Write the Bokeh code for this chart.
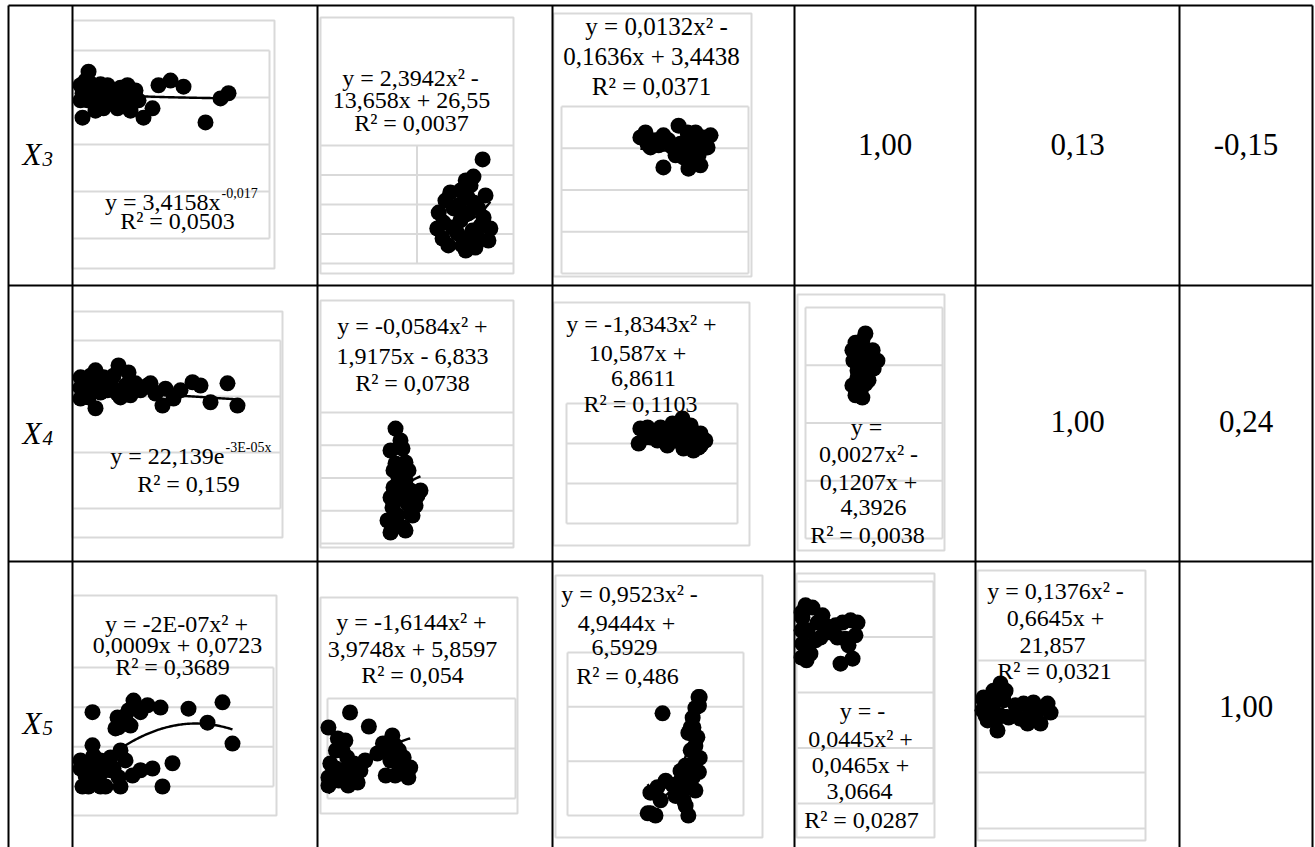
import numpy as np
from bokeh.plotting import figure
from bokeh.models import Range1d
from bokeh.core.properties import value
from bokeh.embed import file_html
from bokeh.resources import INLINE

W, H = 1315, 847
FONT = value("Liberation Serif")
GRID = "#d9d9d9"
INK = "#000000"

# ---------------- correlation table ----------------
row_labels = ["3", "4", "5"]
corr_r3 = [1.00, 0.13, -0.15]
corr_r4 = [1.00, 0.24]
corr_r5 = [1.00]

# ---------------- scatter data per cell ----------------
r3c1_x = [98, 137, 234, 293, 429, 488, 546, 624, 722, 819, 878, 975, 1073, 1131, 1229,
          254, 137, 1326, 1502, 1619, 1853, 2106, 2535, 2828, 2984, 351, 683, 98, 390, 1034,
          195, 332, 585, 780, 917, 1170, 488, 683, 1014, 390]
r3c1_y = [3.26, 3.09, 2.94, 3.30, 3.19, 3.00, 2.77, 3.26, 3.00, 2.77, 3.21, 2.94, 2.72, 3.00, 2.94,
          3.55, 2.57, 2.57, 2.77, 3.26, 3.36, 3.23, 2.47, 2.98, 3.09, 3.04, 3.11, 2.94, 2.83, 3.11,
          3.36, 3.15, 3.11, 3.04, 2.83, 3.15, 3.28, 2.89, 3.26, 2.72]

r3c2_x = [3.36, 3.17, 3.01, 2.69, 3.05, 3.17, 2.45, 2.76, 3.05, 3.27, 2.55, 2.90, 3.38, 3.52,
          2.53, 2.84, 3.05, 3.21, 2.74, 3.15, 2.94, 3.27,
          2.59, 2.90, 3.42, 2.65, 3.32, 2.86, 3.11, 2.42, 3.48, 3.01]
r3c2_y = [10.29, 9.42, 9.22, 8.61, 8.36, 8.10, 7.59, 7.80, 7.54, 7.80, 7.08, 7.19, 7.34, 6.78,
          6.27, 6.53, 6.17, 5.81, 6.83, 6.68, 5.92, 6.27,
          8.20, 8.71, 8.46, 5.92, 6.93, 7.95, 8.97, 6.78, 6.17, 5.66]

r3c3_x = [4.22, 4.60, 5.03, 5.45, 5.94, 6.26, 6.74, 7.17, 7.59, 7.81, 7.01, 6.52, 6.79, 7.43,
          5.45, 6.36, 4.76, 7.33, 4.49, 5.72, 6.90, 7.43, 6.10, 7.17, 7.97, 5.19]
r3c3_y = [3.26, 3.11, 3.19, 3.31, 3.02, 3.54, 3.38, 3.38, 3.26, 3.02, 2.99, 2.78, 2.51, 2.59,
          2.54, 3.11, 3.02, 2.83, 3.38, 3.19, 3.23, 3.07, 2.83, 2.71, 3.31, 3.07]

r4c1_x = [98, 98, 98, 234, 390, 429, 546, 390, 839, 683, 878, 975, 1170, 1268, 1404, 1560,
          1697, 1755, 1911, 2282, 2633, 2964, 3159, 819, 195, 624,
          293, 488, 741, 1073, 1463, 2048, 2438, 254, 1034]
r4c1_y = [24.2, 22.3, 20.3, 23.6, 25.5, 23.1, 24.2, 18.5, 26.4, 23.1, 20.5, 22.7, 23.1, 21.8,
          22.7, 21.2, 19.0, 22.1, 20.3, 23.3, 19.6, 23.1, 19.0, 21.2, 21.8, 21.8,
          24.5, 21.4, 24.5, 20.9, 23.1, 21.8, 22.7, 20.5, 25.1]

r4c2_x = [9.72, 9.07, 10.62, 9.72, 11.01, 10.10, 9.46, 10.75, 11.66, 9.07, 10.36, 12.56, 9.33,
          11.27, 12.31, 8.68, 9.97, 11.66, 10.75, 9.72,
          10.36, 9.46, 11.40, 11.01, 9.72, 11.92, 9.07, 11.01, 12.95]
r4c2_y = [14.04, 11.36, 11.60, 9.77, 9.89, 8.06, 6.84, 7.08, 6.47, 5.62, 5.62, 5.86, 4.40,
          4.88, 4.64, 2.81, 3.42, 3.66, 1.95, 2.56,
          12.58, 8.92, 8.92, 7.69, 5.86, 3.42, 1.34, 1.59, 6.47]

r4c3_x = [2.16, 2.11, 2.37, 2.60, 2.75, 2.95, 3.10, 3.39, 3.25, 2.95, 3.54, 3.77, 3.92, 3.71,
          3.86, 3.42, 2.46, 3.25, 2.31, 2.66, 3.19, 3.63, 3.92, 2.81, 3.48, 4.06]
r4c3_y = [23.75, 20.0, 24.0, 22.75, 24.0, 22.5, 25.0, 26.25, 21.5, 19.5, 22.75, 21.5, 22.5,
          18.25, 19.0, 18.75, 21.5, 23.75, 21.5, 20.75, 20.75, 24.5, 19.5, 23.25, 19.5, 20.75]

r4c4_x = [17.5, 14.6, 13.7, 16.1, 19.0, 21.0, 14.0, 16.6, 19.9, 15.2, 17.5, 16.1, 14.6, 18.4,
          15.2, 18.4, 16.6, 19.6, 15.5, 17.8, 13.7, 16.6, 19.0]
r4c4_y = [3.55, 3.39, 3.26, 3.29, 3.17, 3.08, 3.08, 3.03, 2.94, 2.79, 2.68, 2.56, 2.48, 2.74,
          2.91, 3.08, 3.43, 3.26, 3.17, 2.87, 2.65, 2.44, 2.94]

r5c1_x = [234, 722, 741, 839, 936, 1034, 1112, 1307, 1560, 2106, 2477, 2769, 2964,
          0, 0, 39, 156, 254, 332, 390, 488, 527, 644, 741, 780, 1014, 1404, 1599, 1794, 390, 585,
          877, 1170, 975, 682, 156, 293, 585, 877, 98, 780, 390, 1170, 234]
r5c1_y = [1.28, 1.19, 1.02, 1.14, 1.31, 1.48, 1.34, 1.40, 1.36, 1.34, 1.10, 1.45, 0.74,
          0.45, 0.31, 0.0, 0.0, 0.53, 0.33, 0.22, 0.0, 0.40, 0.31, 0.16, 0.62, 0.19, 0.31, 0.0,
          0.40, 0.45, 0.50,
          1.22, 1.28, 1.05, 1.00, 0.41, 0.19, 0.28, 0.45, 0.19, 0.0, 0.0, 0.28, 0.71]

r5c2_x = [0.24, 0.44, 0.01, 0.11, 0.16, 0.21, 0.28, 0.35, 0.03, 0.01, 0.01, 0.12, 0.17, 0.32,
          0.69, 0.59, 0.76, 0.81, 0.72, 0.86, 0.64, 0.53,
          0.09, 0.19, 0.09, 0.24, 0.40, 0.22, 0.67, 0.78, 0.62, 0.88, 0.72]
r5c2_y = [9.14, 8.58, 8.54, 8.10, 7.62, 7.34, 7.10, 6.82, 7.10, 6.54, 6.22, 6.42, 6.82, 6.34,
          8.22, 7.90, 7.62, 7.34, 6.62, 6.54, 7.62, 7.50,
          7.62, 8.02, 6.90, 6.50, 7.22, 6.22, 7.22, 7.02, 6.62, 6.94, 7.82]

r5c3_x = [2.63, 3.55, 3.58, 3.47, 3.40, 3.35, 3.29, 3.52, 3.58, 3.22, 3.56, 3.40, 3.09, 2.71,
          2.50, 2.32, 3.01, 3.17, 2.25, 2.45, 3.29, 3.27, 3.42,
          3.56, 3.42, 3.47, 3.35, 3.09, 2.89, 3.47, 2.58, 2.32, 3.22, 2.96]
r5c3_y = [0.94, 1.09, 1.09, 0.99, 0.90, 0.81, 0.76, 0.72, 0.53, 0.46, 0.40, 0.35, 0.32, 0.32,
          0.26, 0.21, 0.23, 0.14, 0.02, 0.00, 0.00, 0.26, 0.48,
          1.01, 0.81, 0.64, 0.60, 0.41, 0.28, 0.23, 0.14, 0.02, 0.09, 0.18]

r5c4_x = [0.88, 0.29, 0.59, 1.18, 0.29, 0.76, 1.35, 1.94, 2.65, 3.12, 3.41, 2.82, 2.35, 2.53,
          3.24, 0.24, 0.24, 0.47, 1.06, 1.65, 2.24, 3.00, 0.53, 0.24, 3.53, 1.47]
r5c4_y = [3.53, 3.35, 3.12, 3.26, 2.88, 2.70, 2.99, 3.08, 3.26, 3.30, 3.03, 2.97, 2.99, 2.52,
          2.61, 2.63, 3.44, 3.57, 2.94, 3.21, 3.21, 2.85, 2.58, 3.12, 3.26, 3.39]

r5c5_x = [1.37, 0.95, 0.36, 0.30, 0.60, 1.19, 0.89, 1.55, 1.85, 2.74, 3.33, 4.17, 4.35, 3.15,
          3.75, 2.98, 0.36, 0.77, 0.48, 1.37, 2.26, 3.75, 1.67, 2.56, 1.07]
r5c5_y = [25.9, 24.6, 23.4, 21.1, 19.3, 17.5, 21.6, 22.9, 19.8, 22.3, 22.5, 22.3, 20.7, 20.5,
          18.75, 18.75, 22.9, 22.9, 20.2, 20.2, 22.0, 21.4, 24.6, 19.6, 19.3]

# ---------------- trend lines, coefficients as printed ----------------
r3c1_fit = ("power", 3.4158, -0.017)
r3c2_fit = ("poly2", 2.3942, -13.658, 26.55)
r3c3_fit = ("poly2", 0.0132, -0.1636, 3.4438)
r4c1_fit = ("exp", 22.139, -3e-05)
r4c2_fit = ("poly2", -0.0584, 1.9175, -6.833)
r4c3_fit = ("poly2", -1.8343, 10.587, 6.8611)
r4c4_fit = ("poly2", 0.0027, -0.1207, 4.3926)
r5c1_fit = ("poly2", -2e-07, 0.0009, 0.0723)
r5c2_fit = ("poly2", -1.6144, 3.9748, 5.8597)
r5c3_fit = ("poly2", 0.9523, -4.9444, 6.5929)
r5c4_fit = ("poly2", -0.0445, 0.0465, 3.0664)
r5c5_fit = ("poly2", 0.1376, -0.6645, 21.857)

# ---------------- trend labels ----------------
r3c1_label = ["y = 3,4158x", "-0,017", "R² = 0,0503"]
r3c2_label = ["y = 2,3942x² -", "13,658x + 26,55", "R² = 0,0037"]
r3c3_label = ["y = 0,0132x² -", "0,1636x + 3,4438", "R² = 0,0371"]
r4c1_label = ["y = 22,139e", "-3E-05x", "R² = 0,159"]
r4c2_label = ["y = -0,0584x² +", "1,9175x - 6,833", "R² = 0,0738"]
r4c3_label = ["y = -1,8343x² +", "10,587x +", "6,8611", "R² = 0,1103"]
r4c4_label = ["y =", "0,0027x² -", "0,1207x +", "4,3926", "R² = 0,0038"]
r5c1_label = ["y = -2E-07x² +", "0,0009x + 0,0723", "R² = 0,3689"]
r5c2_label = ["y = -1,6144x² +", "3,9748x + 5,8597", "R² = 0,054"]
r5c3_label = ["y = 0,9523x² -", "4,9444x +", "6,5929", "R² = 0,486"]
r5c4_label = ["y = -", "0,0445x² +", "0,0465x +", "3,0664", "R² = 0,0287"]
r5c5_label = ["y = 0,1376x² -", "0,6645x +", "21,857", "R² = 0,0321"]

# ---------------- page layout (pixels from top-left) ----------------
col_edges = [8, 72, 317, 552, 794, 975, 1179, 1312]
row_edges = [5, 285, 561]
label_baseline = [154, 433, 723]
number_center = [144, 421, 706]

charts = {
    "r3c1": dict(x=r3c1_x, y=r3c1_y, fit=r3c1_fit, box=(72, 20, 274, 268), frame=(75, 269, 50, 238),
                 xlim=(0, 3783), ylim=(0, 4), hgrid=(72, 269, 4), vgrid=[269]),
    "r3c2": dict(x=r3c2_x, y=r3c2_y, fit=r3c2_fit, box=(320, 17, 513, 273), frame=(320, 513, 145, 263),
                 xlim=(0, 4), ylim=(5, 11), hgrid=(320, 513, 4), vgrid=[416.5]),
    "r3c3": dict(x=r3c3_x, y=r3c3_y, fit=r3c3_fit, box=(553, 13, 751, 276), frame=(561, 748, 106, 273),
                 xlim=(0, 10), ylim=(0, 4), hgrid=(561, 748, 4), vgrid=[561, 748]),
    "r4c1": dict(x=r4c1_x, y=r4c1_y, fit=r4c1_fit, box=(72, 311, 282, 537), frame=(75, 280, 340, 508),
                 xlim=(0, 3998), ylim=(0, 31), hgrid=(72, 280, 3), vgrid=[280]),
    "r4c2": dict(x=r4c2_x, y=r4c2_y, fit=r4c2_fit, box=(320, 300, 513, 547), frame=(320, 513, 412, 543),
                 xlim=(0, 25), ylim=(0, 16), hgrid=(320, 513, 4), vgrid=[]),
    "r4c3": dict(x=r4c3_x, y=r4c3_y, fit=r4c3_fit, box=(553, 302, 749, 545), frame=(566, 737, 403, 523),
                 xlim=(0, 5), ylim=(0, 30), hgrid=(566, 737, 3), vgrid=[566, 737]),
    "r4c4": dict(x=r4c4_x, y=r4c4_y, fit=r4c4_fit, box=(797, 294, 944, 550), frame=(805, 942, 307, 538),
                 xlim=(0, 40), ylim=(0, 4), hgrid=(805, 942, 4), vgrid=[805, 942]),
    "r5c1": dict(x=r5c1_x, y=r5c1_y, fit=r5c1_fit, box=(72, 595, 276, 815), frame=(80, 273, 667, 786),
                 xlim=(0, 3763.5), ylim=(0, 2.05), hgrid=(72, 273, 3), vgrid=[273]),
    "r5c2": dict(x=r5c2_x, y=r5c2_y, fit=r5c2_fit, box=(320, 597, 517, 813), frame=(327, 515, 698, 798),
                 xlim=(0, 2), ylim=(5.7, 9.7), hgrid=(327, 515, 2), vgrid=[327, 515]),
    "r5c3": dict(x=r5c3_x, y=r5c3_y, fit=r5c3_fit, box=(555, 575, 762, 837), frame=(567, 743, 652, 815),
                 xlim=(0.2, 4.7), ylim=(0, 1.5), hgrid=(567, 743, 3), vgrid=[567, 743]),
    "r5c4": dict(x=r5c4_x, y=r5c4_y, fit=r5c4_fit, box=(796, 573, 934, 837), frame=(797, 933, 581, 803),
                 xlim=(0, 8), ylim=(0, 4), hgrid=(797, 933, 4), vgrid=[933]),
    "r5c5": dict(x=r5c5_x, y=r5c5_y, fit=r5c5_fit, box=(977, 570, 1145, 840), frame=(977, 1145, 660, 828),
                 xlim=(0, 10), ylim=(0, 30), hgrid=(977, 1145, 3), vgrid=[]),
}

# label lines: (text, centre x, centre y); font size per chart
labels = {
    "r3c2": (r3c2_label, [(410, 77), (411, 99), (411, 122)], 24),
    "r3c3": (r3c3_label, [(656, 26), (651, 56), (651, 86)], 25),
    "r4c2": (r4c2_label, [(412, 325), (412, 355), (412, 382)], 24),
    "r4c3": (r4c3_label, [(641, 323), (637, 352), (643, 378), (640, 403)], 24),
    "r4c4": (r4c4_label, [(866, 426), (868, 453), (868, 481), (873, 507), (867, 534)], 24),
    "r5c1": (r5c1_label, [(176, 623), (177, 644), (172, 666)], 24),
    "r5c2": (r5c2_label, [(411, 621), (412, 648), (412, 674)], 24),
    "r5c3": (r5c3_label, [(629, 593), (626, 622), (624, 647), (627, 675)], 24),
    "r5c4": (r5c4_label, [(862, 710), (860, 738), (860, 764), (859, 791), (861, 819)], 24),
    "r5c5": (r5c5_label, [(1055, 590), (1055, 617), (1052, 645), (1054, 670)], 24),
}
# labels with a raised exponent: base (right edge, centre y), exponent centre y, second line centre
raised_labels = {
    "r3c1": (r3c1_label, (220, 201), 192, (177, 220)),
    "r4c1": (r4c1_label, (224, 455), 447, (188, 483)),
}


def frame_ranges(frame, xlim, ylim):
    """Ranges spanning the whole canvas so that xlim/ylim land on the given pixel box."""
    fx0, fx1, fy0, fy1 = frame
    sx = (xlim[1] - xlim[0]) / (fx1 - fx0)
    sy = (ylim[1] - ylim[0]) / (fy1 - fy0)
    xr = Range1d(xlim[0] - fx0 * sx, xlim[0] + (W - fx0) * sx)
    yr = Range1d(ylim[0] + (fy1 - H) * sy, ylim[0] + fy1 * sy)
    return xr, yr


def trend(fit, xs):
    kind = fit[0]
    if kind == "power":
        return fit[1] * xs ** fit[2]
    if kind == "exp":
        return fit[1] * np.exp(fit[2] * xs)
    return fit[1] * xs ** 2 + fit[2] * xs + fit[3]


p = figure(width=W, height=H, x_range=Range1d(0, W), y_range=Range1d(H, 0),
           output_backend="svg", toolbar_location=None, min_border=0,
           x_axis_type=None, y_axis_type=None, outline_line_color=None,
           background_fill_color="white", border_fill_color="white")

xr_all, yr_all = {}, {}
for key, c in charts.items():
    xr_all[key], yr_all[key] = frame_ranges(c["frame"], c["xlim"], c["ylim"])
p.extra_x_ranges = xr_all
p.extra_y_ranges = yr_all

for key, c in charts.items():
    l, t, r, b = c["box"]
    p.quad(left=[l], right=[r], top=[t], bottom=[b], fill_color=None,
           line_color=GRID, line_width=2)
    fx0, fx1, fy0, fy1 = c["frame"]
    gx0, gx1, n = c["hgrid"]
    gy = np.linspace(fy0, fy1, n + 1)
    p.segment(x0=[gx0] * len(gy), x1=[gx1] * len(gy), y0=gy, y1=gy,
              line_color=GRID, line_width=2)
    if c["vgrid"]:
        v = c["vgrid"]
        p.segment(x0=v, x1=v, y0=[fy0] * len(v), y1=[fy1] * len(v),
                  line_color=GRID, line_width=2)
    xs = np.linspace(min(c["x"]), max(c["x"]), 120)
    p.line(xs, trend(c["fit"], xs), line_color=INK, line_width=2.4,
           x_range_name=key, y_range_name=key)
    p.scatter(c["x"], c["y"], size=16, fill_color=INK, line_color=None,
              x_range_name=key, y_range_name=key)

for key, (lines, pos, size) in labels.items():
    p.text(x=[q[0] for q in pos], y=[q[1] for q in pos], text=lines,
           text_font=FONT, text_font_size=f"{size}px", text_color=INK,
           text_align="center", text_baseline="middle")

for key, (lines, base, sup_y, second) in raised_labels.items():
    p.text(x=[base[0]], y=[base[1]], text=[lines[0]], text_font=FONT,
           text_font_size="24px", text_color=INK, text_align="right", text_baseline="middle")
    p.text(x=[base[0] + 1], y=[sup_y], text=[lines[1]], text_font=FONT,
           text_font_size="14px", text_color=INK, text_align="left", text_baseline="middle")
    p.text(x=[second[0]], y=[second[1]], text=[lines[2]], text_font=FONT,
           text_font_size="24px", text_color=INK, text_align="center", text_baseline="middle")

# table rules
xs_v = col_edges
p.segment(x0=xs_v, x1=xs_v, y0=[row_edges[0]] * len(xs_v), y1=[H] * len(xs_v),
          line_color=INK, line_width=2)
p.segment(x0=[col_edges[0]] * len(row_edges), x1=[col_edges[-1]] * len(row_edges),
          y0=row_edges, y1=row_edges, line_color=INK, line_width=2)

# row headers X3, X4, X5
p.text(x=[22] * 3, y=label_baseline, text=["X"] * 3, text_font=FONT, text_font_size="31px",
       text_font_style="italic", text_color=INK, text_align="left", text_baseline="alphabetic")
p.text(x=[42] * 3, y=[b + 4 for b in label_baseline], text=row_labels, text_font=FONT,
       text_font_size="21px", text_font_style="italic", text_color=INK,
       text_align="left", text_baseline="alphabetic")

# correlation coefficients in the upper triangle
centres = [(col_edges[i] + col_edges[i + 1]) / 2 for i in range(len(col_edges) - 1)]
num_x, num_y, num_t = [], [], []
for r, vals in enumerate([corr_r3, corr_r4, corr_r5]):
    first = len(centres) - len(vals)
    for j, v in enumerate(vals):
        num_x.append(centres[first + j])
        num_y.append(number_center[r])
        num_t.append(f"{v:.2f}".replace(".", ","))
p.text(x=num_x, y=num_y, text=num_t, text_font=FONT, text_font_size="31px",
       text_color=INK, text_align="center", text_baseline="middle")

open("out.html", "w").write(file_html(p, INLINE))
